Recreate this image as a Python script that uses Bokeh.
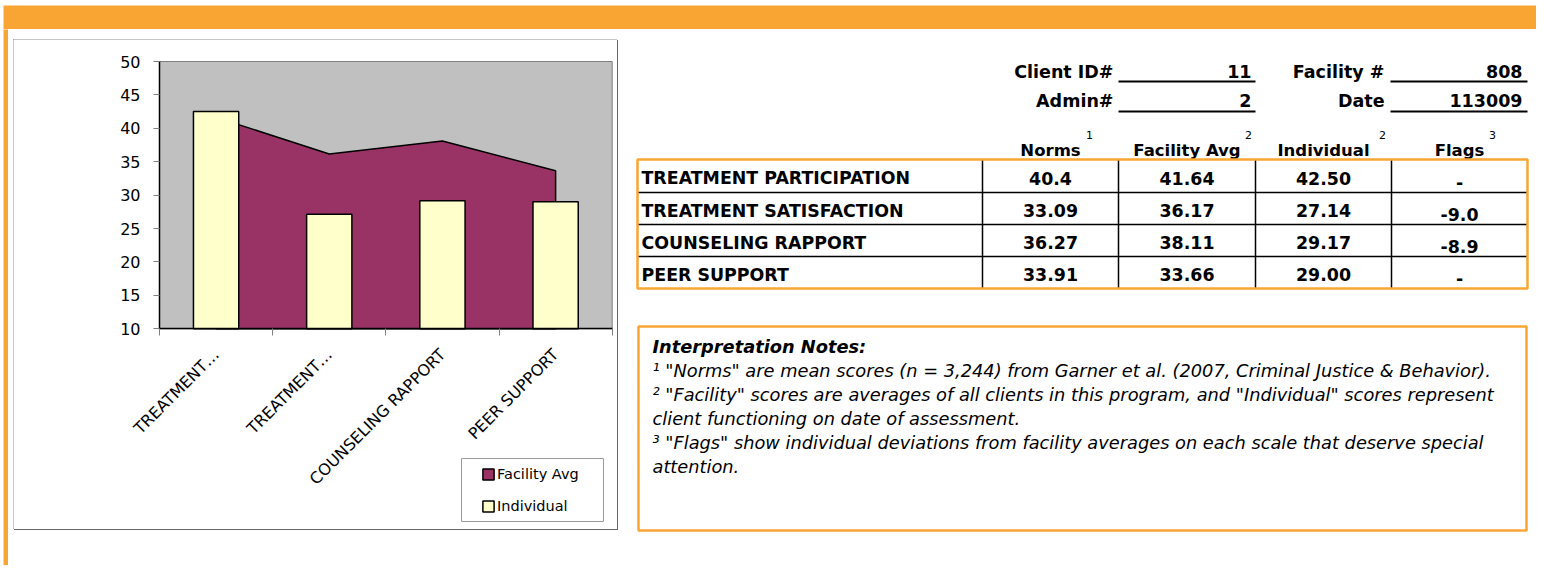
import math
from bokeh.plotting import figure
from bokeh.models import Range1d, FixedTicker, Legend, LegendItem, Spacer
from bokeh.layouts import column, row
from bokeh.embed import file_html
from bokeh.resources import INLINE
from bokeh.core.properties import value

# ---------------- data ----------------
categories = ["TREATMENT PARTICIPATION", "TREATMENT SATISFACTION",
              "COUNSELING RAPPORT", "PEER SUPPORT"]
axis_labels = ["TREATMENT\u2026", "TREATMENT\u2026", "COUNSELING RAPPORT", "PEER SUPPORT"]
norms = [40.4, 33.09, 36.27, 33.91]
facility_avg = [41.64, 36.17, 38.11, 33.66]
individual = [42.50, 27.14, 29.17, 29.00]
flags = ["-", "-9.0", "-8.9", "-"]
y_ticks = [10, 15, 20, 25, 30, 35, 40, 45, 50]
series_names = ["Facility Avg", "Individual"]
column_headers = ["Norms", "Facility Avg", "Individual", "Flags"]
column_header_notes = ["1", "2", "2", "3"]
id_labels_left = ["Client ID#", "Admin#"]
id_values_left = ["11", "2"]
id_labels_right = ["Facility #", "Date"]
id_values_right = ["808", "113009"]
notes_title = "Interpretation Notes:"
notes_lines = [
    '\u00b9  "Norms" are mean scores (n = 3,244) from Garner et al. (2007, Criminal Justice & Behavior).',
    '\u00b2  "Facility" scores are averages of all clients in this program, and "Individual" scores represent',
    'client functioning on date of assessment.',
    '\u00b3  "Flags" show individual deviations from facility averages on each scale that deserve special',
    'attention.',
]

ORANGE = "#F9A533"
FONT = value("DejaVu Sans")
PAGE_W, PAGE_H = 1536, 569

# ---------------- chart (frame = whole chart box) ----------------
n = len(categories)
centers = [i + 0.5 for i in range(n)]
y_min, y_max = y_ticks[0], y_ticks[-1]

CW, CH = 604, 490                                  # chart box size
PA_L, PA_R, PA_T, PA_B = 146.0, 598.7, 22.0, 289.3  # plot-area pixel box inside it
ux = n / (PA_R - PA_L)
uy = (y_max - y_min) / (PA_B - PA_T)
x_start = -PA_L * ux
y_top = y_max + PA_T * uy


def px_x(px):
    return x_start + px * ux


def py_y(py):
    return y_top - py * uy


p = figure(width=CW, height=CH,
           x_range=Range1d(x_start, n + (CW - PA_R) * ux),
           y_range=Range1d(y_min - (CH - PA_B) * uy, y_top),
           output_backend="svg", toolbar_location=None, min_border=0,
           min_border_left=0, min_border_right=0, min_border_top=0, min_border_bottom=0,
           background_fill_color="white", border_fill_color="white",
           outline_line_color=None,
           styles={"outline": "1px solid #8a8a8a", "outline-offset": "-1px",
                   "box-shadow": "1px 1px 0 #666666"})
p.xgrid.visible = False
p.ygrid.visible = False

# grey plot area
p.quad(left=[0], right=[n], bottom=[y_min], top=[y_max],
       fill_color="#C0C0C0", line_color="#808080", line_width=1)

area_x = [centers[0]] + centers + [centers[-1]]
area_y = [y_min] + facility_avg + [y_min]
area_r = p.patch(area_x, area_y, fill_color="#993366", line_color="black", line_width=1.5)
bar_r = p.vbar(x=centers, top=individual, bottom=y_min, width=0.4,
               fill_color="#FFFFCC", line_color="black", line_width=1.5)

# legend frame (drawn as a plain box, legend itself is borderless)
p.quad(left=[px_x(448)], right=[px_x(590)], top=[py_y(419)], bottom=[py_y(482)],
       fill_color="white", line_color="#9a9a9a", line_width=1)

ya = p.yaxis[0]
ya.fixed_location = 0
ya.bounds = (y_min, y_max)
ya.ticker = FixedTicker(ticks=y_ticks)
ya.axis_line_color = "black"
ya.axis_line_width = 1.5
ya.major_tick_line_color = "#808080"
ya.major_tick_out = 6
ya.major_tick_in = 0
ya.minor_tick_line_color = None
ya.major_label_text_font = "DejaVu Sans"
ya.major_label_text_font_size = "16px"
ya.major_label_text_color = "black"
ya.major_label_standoff = 13

xa = p.xaxis[0]
xa.fixed_location = y_min
xa.bounds = (0, n)
xa.ticker = FixedTicker(ticks=centers, minor_ticks=list(range(n + 1)))
xa.major_label_overrides = {c: lab for c, lab in zip(centers, axis_labels)}
xa.axis_line_color = "black"
xa.axis_line_width = 1.5
xa.major_tick_line_color = None
xa.major_tick_out = 0
xa.major_tick_in = 0
xa.minor_tick_line_color = "#808080"
xa.minor_tick_out = 7
xa.minor_tick_in = 0
xa.major_label_orientation = math.pi / 4
xa.major_label_text_font = "DejaVu Sans"
xa.major_label_text_font_size = "16px"
xa.major_label_text_color = "black"
xa.major_label_standoff = 16

legend = Legend(items=[LegendItem(label=series_names[0], renderers=[area_r]),
                       LegendItem(label=series_names[1], renderers=[bar_r])],
                location=(468, 14), orientation="vertical",
                border_line_color=None, background_fill_alpha=0,
                label_text_font="DejaVu Sans", label_text_font_size="14.5px",
                label_text_color="black", glyph_width=14, glyph_height=14,
                label_standoff=2, label_height=18, padding=8, spacing=14,
                label_width=97, margin=0)
p.add_layout(legend)


def solid(w, h, color):
    f = figure(width=w, height=h, output_backend="svg", toolbar_location=None, min_border=0,
               x_axis_type=None, y_axis_type=None, outline_line_color=None,
               background_fill_color=color, border_fill_color=color)
    for g in f.grid:
        g.visible = False
    return f


MID_H = 536
chart_block = row(Spacer(width=3, height=MID_H), solid(5, MID_H, ORANGE), Spacer(width=5, height=MID_H),
                  column(Spacer(width=CW, height=10), p, Spacer(width=CW, height=36)),
                  Spacer(width=11, height=MID_H))

# ---------------- right panel (page-pixel coordinates) ----------------
X0, X1, Y0, Y1 = 628, PAGE_W, 29, 29 + MID_H
r = figure(width=X1 - X0, height=Y1 - Y0, x_range=Range1d(X0, X1), y_range=Range1d(Y1, Y0),
           output_backend="svg", toolbar_location=None, min_border=0,
           x_axis_type=None, y_axis_type=None, outline_line_color=None,
           background_fill_color="white", border_fill_color="white")
for g in r.grid:
    g.visible = False

id_kw = dict(text_font=FONT, text_font_style="bold", text_font_size="17.5px",
             text_baseline="middle", text_color="black", text_align="right")
id_rows_y = [71, 100]
r.text(x=[1113] * 2, y=id_rows_y, text=id_labels_left, **id_kw)
r.text(x=[1251] * 2, y=id_rows_y, text=id_values_left, **id_kw)
r.text(x=[1384] * 2, y=id_rows_y, text=id_labels_right, **id_kw)
r.text(x=[1522] * 2, y=id_rows_y, text=id_values_right, **id_kw)
ul_y = [81, 81, 111, 111]
r.segment(x0=[1118, 1390, 1118, 1390], y0=ul_y, x1=[1255, 1527, 1255, 1527], y1=ul_y,
          line_color="black", line_width=2)

col_edges = [637, 982, 1118, 1255, 1391, 1527]
row_edges = [159, 192, 224, 256, 288]
col_centers = [(col_edges[i] + col_edges[i + 1]) / 2 for i in range(1, 5)]

r.text(x=col_centers, y=[150] * 4, text=column_headers, text_font=FONT, text_font_style="bold",
       text_font_size="16.5px", text_align="center", text_baseline="middle", text_color="black")
r.text(x=[1089, 1248, 1382, 1492], y=[134] * 4, text=column_header_notes, text_font=FONT,
       text_font_size="11px", text_align="center", text_baseline="middle", text_color="black")

r.segment(x0=[col_edges[0]] * 3, y0=row_edges[1:4], x1=[col_edges[-1]] * 3, y1=row_edges[1:4],
          line_color="black", line_width=1.5)
r.segment(x0=col_edges[1:5], y0=[row_edges[0]] * 4, x1=col_edges[1:5], y1=[row_edges[-1]] * 4,
          line_color="black", line_width=1.5)
r.quad(left=[col_edges[0]], right=[col_edges[-1]], top=[row_edges[0]], bottom=[row_edges[-1]],
       fill_color=None, line_color=ORANGE, line_width=2.5)

mids = [(row_edges[i] + row_edges[i + 1]) / 2 + 2 for i in range(4)]
cell_kw = dict(text_font=FONT, text_font_style="bold", text_font_size="17.4px",
               text_baseline="middle", text_color="black")
r.text(x=[641] * 4, y=mids, text=categories, text_align="left", **cell_kw)
r.text(x=[col_centers[0]] * 4, y=mids, text=[str(v) for v in norms], text_align="center", **cell_kw)
r.text(x=[col_centers[1]] * 4, y=mids, text=[f"{v:.2f}" for v in facility_avg],
       text_align="center", **cell_kw)
r.text(x=[col_centers[2]] * 4, y=mids, text=[f"{v:.2f}" for v in individual],
       text_align="center", **cell_kw)
r.text(x=[col_centers[3]] * 4, y=[m + 4 for m in mids], text=flags, text_align="center", **cell_kw)

r.quad(left=[638], right=[1526], top=[326], bottom=[530], fill_color=None,
       line_color=ORANGE, line_width=2.5)
r.text(x=[652], y=[346], text=[notes_title], text_font=FONT, text_font_style="bold italic",
       text_font_size="17.8px", text_align="left", text_baseline="middle", text_color="black")
r.text(x=[652] * len(notes_lines), y=[370 + 24 * i for i in range(len(notes_lines))], text=notes_lines,
       text_font=FONT, text_font_style="italic", text_font_size="17.8px", text_align="left",
       text_baseline="middle", text_color="black")

# ---------------- orange bands ----------------
top = figure(width=PAGE_W, height=29, x_range=Range1d(0, PAGE_W), y_range=Range1d(29, 0),
             output_backend="svg", toolbar_location=None, min_border=0,
             x_axis_type=None, y_axis_type=None, outline_line_color=None,
             background_fill_color="white", border_fill_color="white")
for g in top.grid:
    g.visible = False
top.quad(left=[3], right=[PAGE_W], top=[5], bottom=[29], fill_color=ORANGE, line_color=None)

BOT_H = PAGE_H - 29 - MID_H
bottom = figure(width=PAGE_W, height=BOT_H, x_range=Range1d(0, PAGE_W), y_range=Range1d(BOT_H, 0),
                output_backend="svg", toolbar_location=None, min_border=0,
                x_axis_type=None, y_axis_type=None, outline_line_color=None,
                background_fill_color="white", border_fill_color="white")
for g in bottom.grid:
    g.visible = False
bottom.quad(left=[3], right=[PAGE_W], top=[0], bottom=[BOT_H], fill_color=ORANGE, line_color=None)

layout = column(top, row(chart_block, r), bottom)

open("out.html", "w").write(file_html(layout, INLINE))
